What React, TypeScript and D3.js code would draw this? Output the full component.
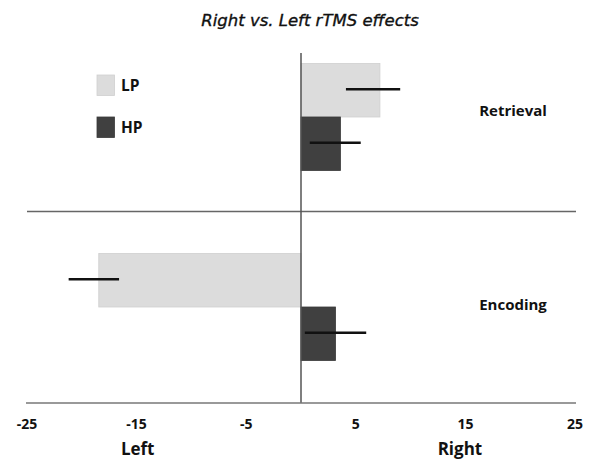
import React from "react";
import * as d3 from "d3";

const categories = ["Retrieval", "Encoding"];
const series = ["LP", "HP"];
const seriesColors = ["#dcdcdc", "#404040"];
const seriesStroke = ["#cfcfcf", "#3a3a3a"];
const lpValues = [7.2, -18.45];
const hpValues = [3.6, 3.15];
const lpErrLow = [4.1, -21.2];
const lpErrHigh = [9.05, -16.6];
const hpErrLow = [0.8, 0.35];
const hpErrHigh = [5.45, 5.95];
const xTicks = [-25, -15, -5, 5, 15, 25];
const title = "Right vs. Left rTMS effects";

const W = 592;
const H = 459;

export default function App() {
  const x = d3.scaleLinear().domain([-25, 25]).range([27, 575]);
  const yCat = d3.scaleBand<string>().domain(categories).range([22, 402]);
  const barH = 53.5;
  const vals = [lpValues, hpValues];
  const lows = [lpErrLow, hpErrLow];
  const highs = [lpErrHigh, hpErrHigh];
  const font = "'Open Sans', 'Liberation Sans', sans-serif";
  const labelOffsets = [-1, 3];

  return (
    <div style={{ position: "absolute", left: 0, top: 0 }}>
      <svg width={W} height={H} style={{ display: "block", background: "#fff" }}>
        <text
          x={310}
          y={26}
          textAnchor="middle"
          fontFamily="'DejaVu Sans', sans-serif"
          fontStyle="italic"
          fontSize={16.5}
          fill="#111"
          stroke="#111"
          strokeWidth={0.35}
        >
          {title}
        </text>

        {categories.map((c, ci) => {
          const center = (yCat(c) as number) + yCat.bandwidth() / 2;
          const ySub = d3
            .scaleBand<string>()
            .domain(series)
            .range([center - barH, center + barH]);
          return (
            <g key={c}>
              {series.map((s, si) => {
                const v = vals[si][ci];
                const y0 = ySub(s) as number;
                return (
                  <rect
                    key={s}
                    x={Math.min(x(0), x(v))}
                    y={y0}
                    width={Math.abs(x(v) - x(0))}
                    height={ySub.bandwidth()}
                    fill={seriesColors[si]}
                    stroke={seriesStroke[si]}
                    strokeWidth={0.8}
                  />
                );
              })}
              {series.map((s, si) => {
                const yc = (ySub(s) as number) + ySub.bandwidth() / 2;
                return (
                  <line
                    key={s + "err"}
                    x1={x(lows[si][ci])}
                    x2={x(highs[si][ci])}
                    y1={yc - 1}
                    y2={yc - 1}
                    stroke="#111"
                    strokeWidth={2.6}
                  />
                );
              })}
              <text
                x={513}
                y={center + labelOffsets[ci]}
                textAnchor="middle"
                fontFamily={font}
                fontWeight="bold"
                fontSize={15}
                fill="#111"
              >
                {c}
              </text>
            </g>
          );
        })}

        <line
          x1={27}
          x2={576}
          y1={(yCat("Encoding") as number) - 0.5}
          y2={(yCat("Encoding") as number) - 0.5}
          stroke="#666"
          strokeWidth={1.3}
        />

        <line x1={x(0)} x2={x(0)} y1={53} y2={403} stroke="#555" strokeWidth={1.5} />

        <line x1={26} x2={576} y1={403} y2={403} stroke="#777" strokeWidth={1.3} />
        {xTicks.map((t) => (
          <text
            key={t}
            x={x(t)}
            y={428.5}
            textAnchor="middle"
            fontFamily={font}
            fontWeight="bold"
            fontSize={14}
            fill="#111"
          >
            {t}
          </text>
        ))}
        <text x={x(-14.9)} y={455} textAnchor="middle" fontFamily={font} fontWeight="bold" fontSize={17} fill="#111">
          Left
        </text>
        <text x={x(14.5)} y={455} textAnchor="middle" fontFamily={font} fontWeight="bold" fontSize={17} fill="#111">
          Right
        </text>

        {series.map((s, si) => (
          <g key={s} transform={`translate(97, ${75 + si * 42})`}>
            <rect width={17.5} height={20.5} fill={seriesColors[si]} stroke={seriesStroke[si]} strokeWidth={0.8} />
            <text x={24} y={16} fontFamily={font} fontWeight="bold" fontSize={15.5} fill="#111">
              {s}
            </text>
          </g>
        ))}
      </svg>
    </div>
  );
}
